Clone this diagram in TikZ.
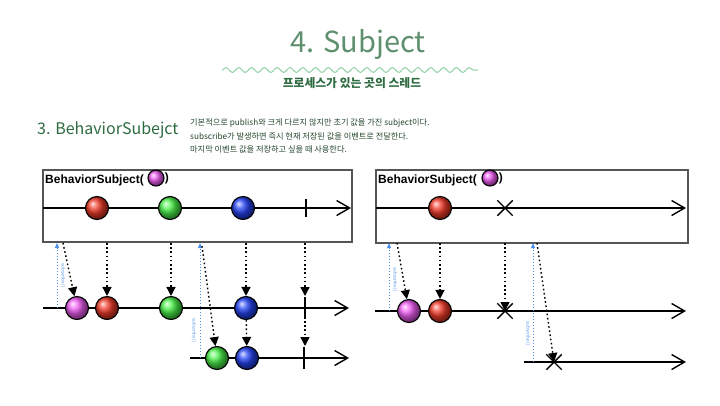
\documentclass[tikz,border=0pt]{standalone}
\usepackage{fontspec}
\setmainfont{Noto Sans CJK KR}
\newfontfamily\arialfont{Liberation Sans}
\usetikzlibrary{arrows.meta,shapes.misc,decorations.pathmorphing}

\definecolor{titlegreen}{HTML}{5E8F6E}
\definecolor{wavegreen}{HTML}{8FCFA5}
\definecolor{darkgreen}{HTML}{2E6B40}
\definecolor{textgreen}{HTML}{24452C}
\definecolor{boxgray}{HTML}{555555}
\definecolor{subblue}{HTML}{4F8FEA}
\definecolor{mred}{HTML}{F03A28}
\definecolor{mgreen}{HTML}{48F048}
\definecolor{mblue}{HTML}{2442F4}
\definecolor{mmagenta}{HTML}{EE5CF2}

\tikzset{
  marble/.style={circle, draw=black, line width=1.1pt, minimum size=23pt, inner sep=0pt, shading=ball, ball color=#1},
  label marble/.style={marble=#1, minimum size=16pt},
  timeline/.style={line width=1.3pt, -{Straight Barb[length=13pt,width=15pt,line width=1.4pt]}},
  emit/.style={line width=1.4pt, dash pattern=on 1.6pt off 2.6pt, -{Triangle[length=9pt,width=9pt]}},
  subs/.style={line width=1pt, subblue, dash pattern=on 1pt off 2pt, -{Triangle[length=5pt,width=4pt]}},
  subtext/.style={text=subblue, font=\fontsize{4.5}{4.5}\selectfont, rotate=-90, inner sep=0pt},
  mbox/.style={draw=boxgray, line width=1.3pt},
  boxlabel/.style={anchor=west, inner sep=0pt, font=\arialfont\bfseries\fontsize{12}{12}\selectfont},
  stop/.style={draw, cross out, line width=1.4pt, minimum size=14pt, inner sep=0pt},
  tick/.style={line width=1.4pt}
}

\begin{document}
\begin{tikzpicture}[x=1pt,y=-1pt]
 \useasboundingbox (0,0) rectangle (720,405);

 % heading
 \node[text=titlegreen, font=\fontsize{29}{29}\selectfont] (title) at (358,44) {4. Subject};
 \draw[wavegreen, line width=1pt, decorate, decoration={snake, segment length=12.8pt, amplitude=2.4pt}] (222,70) -- (478,70);
 \node[text=darkgreen, font=\bfseries\fontsize{11.8}{11.8}\selectfont] (subtitle) at (352,83) {프로세스가 있는 곳의 스레드};

 \node[anchor=west, text=darkgreen, font=\fontsize{16}{16}\selectfont, inner sep=0pt] (section) at (37,130) {3. BehaviorSubejct};
 \node[anchor=north west, align=left, inner sep=0pt, text=textgreen, font=\fontsize{8.2}{13.4}\selectfont] (desc) at (190,119)
   {기본적으로 publish와 크게 다르지 않지만 초기 값을 가진 subject이다.\\
    subscribe가 발생하면 즉시 현재 저장된 값을 이벤트로 전달한다.\\
    마지막 이벤트 값을 저장하고 싶을 때 사용한다.};

 % left: completes normally
 \draw[mbox] (43,170) rectangle (352,242);
 \node[boxlabel] (lbl1) at (45,180) {BehaviorSubject(};
 \node[label marble=mmagenta] (lm1) at (156,178) {};
 \node[boxlabel] at (lm1.east) {)};
 \draw[timeline] (43,208) -- (351,208);
 \foreach \n/\x/\c in {r1/97/mred, g1/170/mgreen, b1/243/mblue}
   \node[marble=\c] (\n) at (\x,208) {};
 \draw[tick] (306,199) -- (306,217);

 \draw[timeline] (43,308) -- (349,308);
 \foreach \n/\x/\c in {m2/77/mmagenta, r2/107/mred, g2/171/mgreen, b2/246/mblue}
   \node[marble=\c] (\n) at (\x,308) {};
 \draw[tick] (305,297) -- (305,319);

 \draw[timeline] (190,358) -- (349,358);
 \foreach \n/\x/\c in {g3/217/mgreen, b3/247/mblue}
   \node[marble=\c] (\n) at (\x,358) {};
 \draw[tick] (304,347) -- (304,369);

 \draw[subs] (57,308) -- (57,243);
 \node[subtext] (sub1) at (63,276) {subscribe( )};
 \draw[subs] (200,358) -- (200,243);
 \node[subtext] (sub2) at (194,331) {subscribe( )};

 \draw[emit] (63,243) -- (m2);
 \draw[emit] (107,243) -- (r2);
 \draw[emit] (171,243) -- (g2);
 \draw[emit] (246,243) -- (b2);
 \draw[emit] (305,243) -- (305,296);
 \draw[emit] (202,246) -- (g3);
 \draw[emit] (b2) -- (b3);
 \draw[emit] (305,321) -- (305,346);

 % right: ends with an error
 \draw[mbox] (376,170) rectangle (688,243);
 \node[boxlabel] (lbl2) at (378,180) {BehaviorSubject(};
 \node[label marble=mmagenta] (lm2) at (490,178) {};
 \node[boxlabel] at (lm2.east) {)};
 \draw[timeline] (376,208) -- (686,208);
 \node[marble=mred] (r4) at (440,208) {};
 \node[stop] (e4) at (505,208) {};

 \draw[timeline] (375,311) -- (686,311);
 \foreach \n/\x/\c in {m5/409/mmagenta, r5/440/mred}
   \node[marble=\c] (\n) at (\x,311) {};
 \node[stop] (e5) at (505,311) {};

 \draw[timeline] (524,362) -- (686,362);
 \node[stop] (e6) at (554,362) {};

 \draw[subs] (389,311) -- (389,243);
 \node[subtext] (sub3) at (395,280) {subscribe( )};
 \draw[subs] (533,362) -- (533,243);
 \node[subtext] (sub4) at (528,334) {subscribe( )};

 \draw[emit] (397,243) -- (m5);
 \draw[emit] (440,243) -- (r5);
 \draw[emit] (505,243) -- (e5.center);
 \draw[emit] (537,243) -- (e6.center);
\end{tikzpicture}
\end{document}
